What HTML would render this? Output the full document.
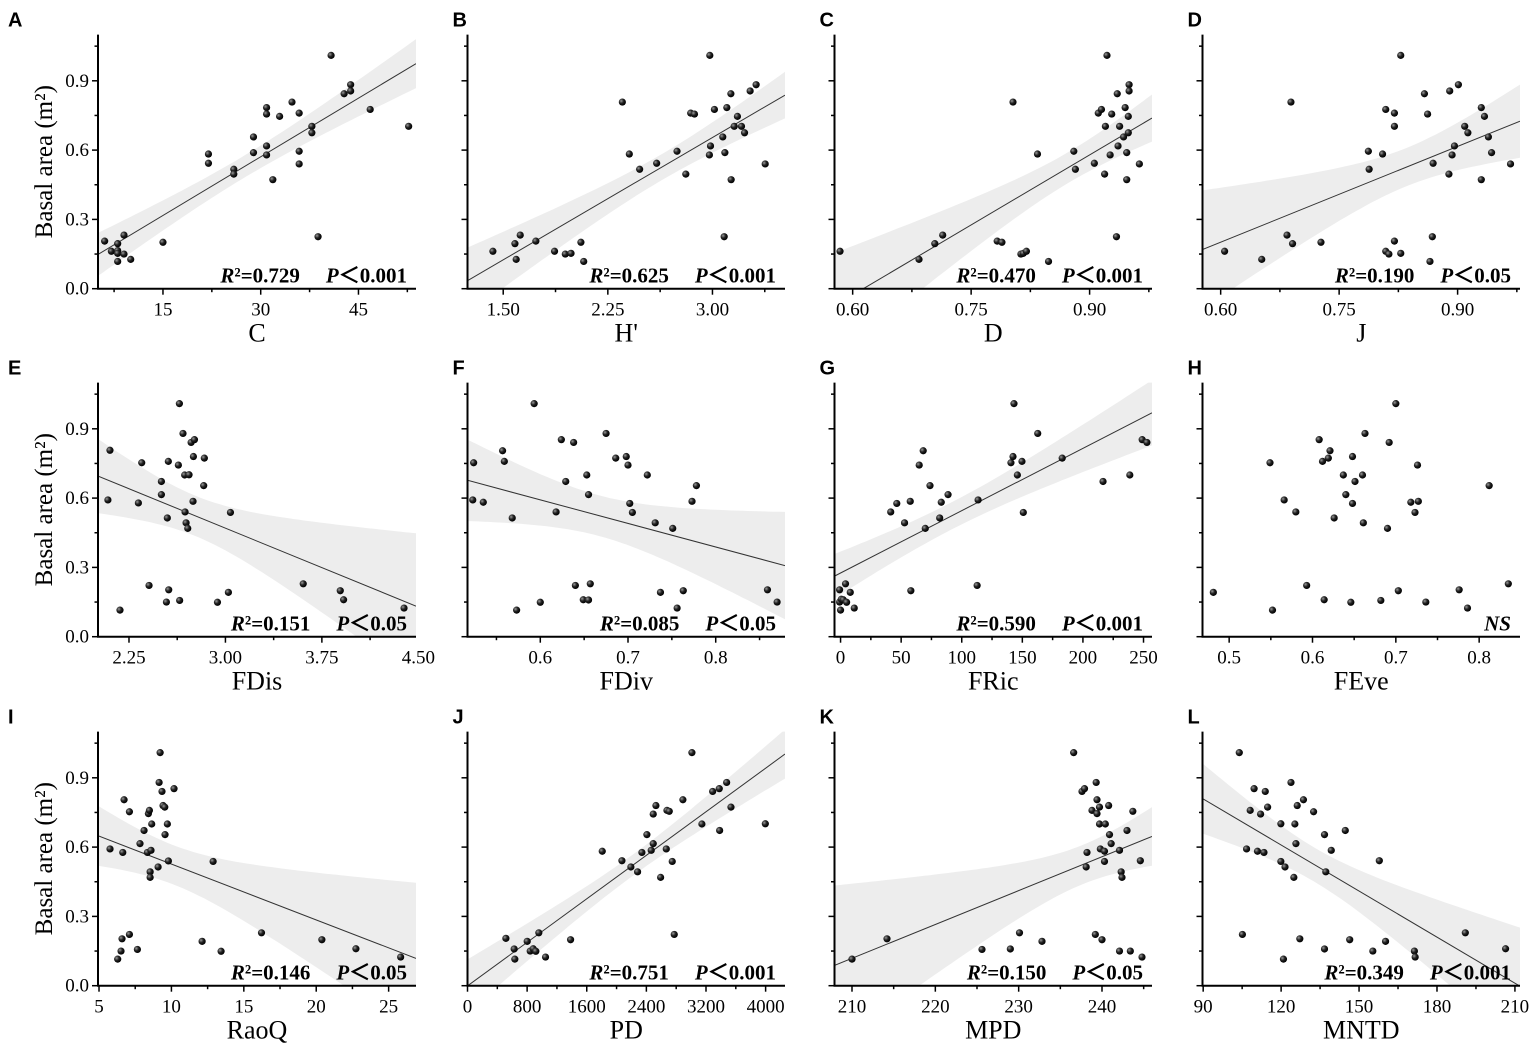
<!DOCTYPE html>
<html><head><meta charset="utf-8"><style>
html,body{margin:0;padding:0;background:#fff;}
svg{display:block;}
text{font-family:"Liberation Serif","DejaVu Serif",serif;fill:#000;}
.pl{font-family:"Liberation Sans","DejaVu Sans",sans-serif;font-weight:bold;font-size:20px;}
</style></head><body>
<svg id="fig" xmlns="http://www.w3.org/2000/svg" width="1535" height="1045" viewBox="0 0 1535 1045">
<defs>
<radialGradient id="ball" cx="35%" cy="35%" r="65%"><stop offset="0" stop-color="#9a9a9a"/><stop offset="0.5" stop-color="#222"/><stop offset="1" stop-color="#000"/></radialGradient>
</defs>
</svg>
<script>
const aX=[6.05,7.08,8.05,8.05,8.05,8.05,9.02,9.02,10.05,15.0,21.98,21.98,25.87,25.87,28.89,28.89,30.9,30.9,30.9,30.9,31.86,32.9,34.8,35.9,35.9,35.9,37.85,37.85,38.8,40.8,42.8,43.8,43.8,46.8,52.7];
const aY=[.206,.162,.195,.165,.153,.118,.232,.150,.127,.201,.583,.543,.517,.496,.657,.589,.784,.756,.618,.579,.472,.746,.808,.760,.595,.540,.703,.675,.225,1.010,.844,.883,.856,.776,.703];
const bX=[1.426,1.584,1.593,1.622,1.734,1.868,1.945,1.986,2.057,2.077,2.354,2.404,2.478,2.600,2.746,2.809,2.844,2.871,2.981,2.986,2.978,3.014,3.074,3.084,3.089,3.103,3.132,3.134,3.156,3.179,3.208,3.230,3.270,3.313,3.378];
const bY=[.162,.195,.127,.232,.206,.162,.150,.153,.201,.118,.808,.583,.517,.543,.595,.496,.760,.756,1.010,.618,.579,.776,.657,.225,.589,.784,.844,.472,.703,.746,.703,.675,.856,.883,.540];
const cX=[.584,.684,.704,.714,.783,.789,.803,.813,.816,.820,.834,.848,.880,.882,.906,.911,.915,.919,.920,.922,.926,.928,.935,.934,.936,.938,.943,.945,.947,.947,.949,.949,.950,.950,.963];
const cY=[.162,.127,.195,.232,.206,.201,.808,.150,.153,.162,.583,.118,.595,.517,.543,.760,.776,.496,.703,1.010,.579,.756,.844,.225,.618,.703,.657,.784,.589,.472,.746,.675,.883,.856,.540];
const dX=[.605,.652,.684,.691,.689,.727,.787,.788,.805,.809,.809,.813,.820,.820,.820,.828,.828,.858,.862,.865,.868,.869,.889,.890,.893,.896,.901,.909,.913,.930,.930,.934,.939,.943,.967];
const dY=[.162,.127,.232,.195,.808,.201,.595,.517,.583,.776,.162,.150,.760,.703,.206,1.010,.153,.844,.756,.118,.225,.543,.496,.856,.579,.618,.883,.703,.675,.784,.472,.746,.657,.589,.540];
const eX=[2.102,2.086,2.180,2.323,2.349,2.406,2.502,2.502,2.541,2.548,2.556,2.559,2.634,2.642,2.644,2.670,2.683,2.686,2.694,2.707,2.717,2.733,2.751,2.748,2.759,2.831,2.836,2.938,3.023,3.039,3.605,3.893,3.919,4.389];
const eY=[.807,.592,.115,.579,.753,.222,.672,.615,.150,.514,.759,.203,.743,1.009,.157,.880,.700,.540,.493,.469,.701,.841,.780,.586,.853,.654,.773,.149,.192,.538,.229,.199,.160,.124];
const fX=[.524,.523,.535,.557,.559,.568,.573,.593,.600,.618,.624,.629,.638,.640,.649,.653,.655,.655,.657,.675,.686,.698,.700,.702,.705,.722,.731,.737,.751,.756,.763,.773,.778,.859,.870];
const fY=[.753,.592,.582,.805,.759,.514,.115,1.009,.149,.540,.853,.672,.841,.222,.160,.700,.615,.159,.229,.880,.773,.780,.743,.577,.538,.700,.493,.192,.469,.124,.199,.586,.654,.203,.150];
const gX=[-0.8,-0.8,0,0.6,2.2,4.1,5.0,8.0,11.3,41.4,46.4,52.8,57.5,58.0,64.9,68.2,69.9,73.8,81.8,83.1,88.7,112.7,113.5,140.6,142.3,143.1,145.9,149.7,150.8,162.7,182.9,216.6,238.7,248.9,252.8];
const gY=[.203,.150,.115,.162,.160,.229,.149,.192,.124,.540,.577,.493,.586,.199,.743,.805,.469,.654,.514,.582,.615,.222,.592,.753,.780,1.009,.700,.759,.538,.880,.773,.672,.700,.853,.841];
const hX=[.481,.549,.552,.566,.580,.593,.608,.612,.614,.619,.621,.626,.637,.640,.646,.648,.648,.651,.660,.661,.663,.682,.690,.692,.700,.703,.718,.723,.726,.727,.736,.776,.786,.812,.835];
const hY=[.192,.753,.115,.592,.540,.222,.853,.759,.160,.773,.805,.514,.700,.615,.149,.780,.577,.672,.700,.493,.880,.157,.469,.841,1.009,.199,.582,.538,.743,.586,.150,.203,.124,.654,.229];
const iX=[5.76,6.29,6.52,6.59,6.64,6.73,7.10,7.10,7.65,7.83,8.11,8.34,8.41,8.48,8.53,8.53,8.59,8.64,9.08,9.15,9.22,9.35,9.42,9.54,9.56,9.72,9.79,10.18,12.12,12.88,13.43,16.22,20.39,22.74,25.83];
const iY=[.592,.115,.150,.203,.577,.805,.753,.222,.157,.615,.672,.577,.745,.759,.493,.469,.586,.700,.514,.880,1.009,.841,.780,.773,.654,.700,.540,.853,.192,.538,.149,.229,.199,.160,.124];
const jX=[515,626,635,801,841,881,917,957,1047,1383,1808,2072,2192,2282,2340,2407,2465,2492,2492,2528,2591,2667,2676,2707,2747,2774,2890,3011,3145,3289,3378,3383,3477,3535,3996];
const jY=[.205,.159,.115,.192,.150,.160,.149,.229,.124,.199,.582,.541,.514,.493,.577,.654,.586,.743,.615,.780,.469,.592,.759,.755,.538,.222,.805,1.009,.700,.841,.853,.672,.880,.773,.701];
const kX=[210.0,214.2,225.6,229.0,230.1,232.8,236.6,237.6,237.9,238.1,238.2,238.8,239.2,239.3,239.4,239.4,239.7,239.7,239.8,240.0,240.3,240.3,240.4,240.8,240.9,241.1,242.1,242.1,242.3,242.4,243.0,243.4,243.7,244.6,244.8];
const kY=[.115,.203,.157,.159,.229,.192,1.009,.841,.853,.514,.577,.759,.222,.880,.745,.805,.773,.700,.592,.199,.582,.538,.700,.780,.654,.615,.586,.150,.493,.469,.672,.150,.755,.541,.124];
const lX=[103.9,105.1,106.7,108.1,109.6,110.9,112.1,113.4,113.9,114.8,119.9,119.9,120.9,121.5,123.8,124.9,125.3,125.7,126.2,127.2,128.6,132.5,136.7,136.7,137.2,139.3,144.7,146.4,155.3,157.8,160.2,171.3,171.6,190.9,206.4];
const lY=[1.009,.222,.592,.759,.853,.582,.743,.577,.841,.773,.701,.538,.115,.514,.880,.469,.700,.615,.780,.203,.805,.753,.654,.159,.493,.586,.672,.199,.150,.541,.192,.150,.124,.229,.160];

const yTicks=[0,0.3,0.6,0.9];
const yTickLabels=["0.0","0.3","0.6","0.9"];
const r2Labels=["0.729","0.625","0.470","0.190","0.151","0.085","0.590","","0.146","0.751","0.150","0.349"];
const pLabels=["0.001","0.001","0.001","0.05","0.05","0.05","0.001","","0.05","0.001","0.05","0.001"];
const xTitles=["C","H'","D","J","FDis","FDiv","FRic","FEve","RaoQ","PD","MPD","MNTD"];
const letters=["A","B","C","D","E","F","G","H","I","J","K","L"];
const xTicksAll=[[15,30,45],[1.5,2.25,3.0],[0.6,0.75,0.9],[0.6,0.75,0.9],[2.25,3.0,3.75,4.5],[0.6,0.7,0.8],[0,50,100,150,200,250],[0.5,0.6,0.7,0.8],[5,10,15,20,25],[0,800,1600,2400,3200,4000],[210,220,230,240],[90,120,150,180,210]];
const xTickLabelsAll=[["15","30","45"],["1.50","2.25","3.00"],["0.60","0.75","0.90"],["0.60","0.75","0.90"],["2.25","3.00","3.75","4.50"],["0.6","0.7","0.8"],["0","50","100","150","200","250"],["0.5","0.6","0.7","0.8"],["5","10","15","20","25"],["0","800","1600","2400","3200","4000"],["210","220","230","240"],["90","120","150","180","210"]];
const xDomains=[[5.03,53.83],[1.244,3.52],[0.577,0.979],[0.577,0.979],[2.009,4.482],[0.517,0.879],[-5,257],[0.468,0.849],[4.93,26.89],[0,4260],[207.9,246],[89.74,211.95]];
const seriesX=[aX,bX,cX,dX,eX,fX,gX,hX,iX,jX,kX,lX];
const seriesY=[aY,bY,cY,dY,eY,fY,gY,hY,iY,jY,kY,lY];

const NS="http://www.w3.org/2000/svg";
const svg=document.getElementById('fig');
const colL=[98,467.5,834.5,1202.5], colR=[416,785,1152,1520];
const rowBase=[288.7,636.7,985.7];
const yPx=231, yMax=1.1;
function mk(tag,attrs,parent){const e=document.createElementNS(NS,tag);for(const k in attrs)e.setAttribute(k,attrs[k]);(parent||svg).appendChild(e);return e;}

function fit(xs,ys){const n=xs.length;let mx=0,my=0;for(let i=0;i<n;i++){mx+=xs[i];my+=ys[i];}mx/=n;my/=n;let sxx=0,sxy=0;for(let i=0;i<n;i++){sxx+=(xs[i]-mx)**2;sxy+=(xs[i]-mx)*(ys[i]-my);}const b=sxy/sxx,a=my-b*mx;let sse=0;for(let i=0;i<n;i++){sse+=(ys[i]-a-b*xs[i])**2;}const s=Math.sqrt(sse/(n-2));return {a,b,mx,sxx,s,n};}

for(let p=0;p<12;p++){
  const col=p%4,row=Math.floor(p/4);
  const L=colL[col],R=colR[col],B=rowBase[row],T=B-yMax*yPx;
  const dom=xDomains[p];
  const X=v=>L+(v-dom[0])/(dom[1]-dom[0])*(R-L);
  const Y=v=>B-v*yPx;
  const g=mk('g',{});
  
  
  const cp=mk('clipPath',{id:'clip'+p},g);
  mk('rect',{x:L,y:T,width:R-L,height:B-T},cp);
  const xs=seriesX[p],ys=seriesY[p];
  if(r2Labels[p]!==""){
    const f=fit(xs,ys),t=2.035;
    let up=[],lo=[];
    for(let k=0;k<=60;k++){const xv=dom[0]+(dom[1]-dom[0])*k/60;const yv=f.a+f.b*xv;const se=f.s*Math.sqrt(1/f.n+(xv-f.mx)**2/f.sxx);up.push(X(xv).toFixed(1)+','+Y(yv+t*se).toFixed(1));lo.unshift(X(xv).toFixed(1)+','+Y(yv-t*se).toFixed(1));}
    const band=mk('polygon',{points:up.concat(lo).join(' '),fill:'#ededed','clip-path':'url(#clip'+p+')'},g);
    
    
    const ln=mk('line',{x1:X(dom[0]),y1:Y(f.a+f.b*dom[0]),x2:X(dom[1]),y2:Y(f.a+f.b*dom[1]),stroke:'#333','stroke-width':1,'clip-path':'url(#clip'+p+')'},g);
    
    
  }
  for(let i=0;i<xs.length;i++){
    const c=mk('circle',{cx:X(xs[i]),cy:Y(ys[i]),r:3.6,fill:'url(#ball)'},g);
    
    
  }
  const ya=mk('line',{x1:L,y1:T,x2:L,y2:B+0.5,stroke:'#000','stroke-width':2},g);
  
  
  const xa=mk('line',{x1:L-1,y1:B,x2:R,y2:B,stroke:'#000','stroke-width':2},g);
  
  
  for(let v=0;v<=1.051;v+=0.15){const maj=Math.round(v/0.15)%2===0;mk('line',{x1:L-(maj?6:3.5),y1:Y(v),x2:L,y2:Y(v),stroke:'#000','stroke-width':1.5},g);}
  if(col===0){
    for(let k=0;k<yTicks.length;k++){const tl=mk('text',{x:L-9,y:Y(yTicks[k])+6,'text-anchor':'end','font-size':19},g);tl.textContent=yTickLabels[k];
      
      }
    const yt=mk('text',{x:0,y:0,'text-anchor':'middle','font-size':25,transform:'translate(52,'+(B-127)+') rotate(-90)'},g);
    yt.textContent='Basal area (m²)';
    
    
  }
  const tk=xTicksAll[p],step=tk[1]-tk[0];
  for(let v=tk[0]-step*2;v<=dom[1]+1e-9;v+=step/2){
    if(v<dom[0]-1e-9)continue;
    const maj=tk.some(t=>Math.abs(t-v)<step*0.01);
    mk('line',{x1:X(v),y1:B,x2:X(v),y2:B+(maj?6:3.5),stroke:'#000','stroke-width':1.5},g);
  }
  for(let k=0;k<tk.length;k++){const tl=mk('text',{x:X(tk[k]),y:B+27,'text-anchor':'middle','font-size':19},g);tl.textContent=xTickLabelsAll[p][k];
    
    }
  const xt=mk('text',{x:(L+R)/2,y:B+53,'text-anchor':'middle','font-size':26},g);
  xt.textContent=xTitles[p];
  
  
  const lt=mk('text',{x:col===0?8:L-15,y:B-262,'class':'pl'},g);
  lt.textContent=letters[p];
  
  
  const st=mk('text',{x:R-9,y:B-6,'text-anchor':'end','font-size':21,'font-weight':'bold'},g);
  
  
  if(r2Labels[p]!==""){
    st.innerHTML='<tspan font-style="italic">R</tspan><tspan>²=' + r2Labels[p] + '</tspan><tspan dx="26" font-style="italic">P</tspan><tspan>＜' + pLabels[p] + '</tspan>';
  } else {
    st.innerHTML='<tspan font-style="italic">NS</tspan>';
  }
}
</script>
</body></html>
